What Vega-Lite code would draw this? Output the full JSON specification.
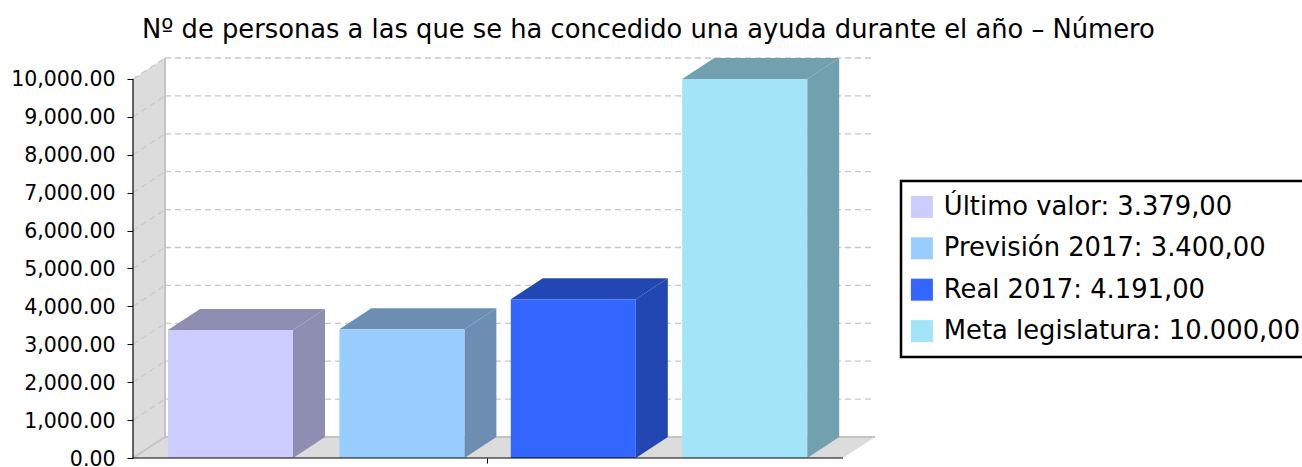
{
"$schema":"https://vega.github.io/schema/vega-lite/v6.json",
"width":742,"height":400,
"autosize":{"type":"none"},
"padding":{"left":133,"top":58,"right":427,"bottom":9},
"background":"white",
"config":{"view":{"stroke":null},"font":"DejaVu Sans","legend":{"strokeWidth":2.5}},
"title":{"text":"Nº de personas a las que se ha concedido una ayuda durante el año – Número","anchor":"start","frame":"group","dx":9,"fontSize":25.75,"fontWeight":"normal","color":"#000000","font":"DejaVu Sans","offset":10},
"datasets":{
"bars":[
{"label":"Último valor: 3.379,00","value":3379,"slot":0},
{"label":"Previsión 2017: 3.400,00","value":3400,"slot":1},
{"label":"Real 2017: 4.191,00","value":4191,"slot":2},
{"label":"Meta legislatura: 10.000,00","value":10000,"slot":3}
],
"ticks":[{"tick":1000},{"tick":2000},{"tick":3000},{"tick":4000},{"tick":5000},{"tick":6000},{"tick":7000},{"tick":8000},{"tick":9000},{"tick":10000}]
},
"encoding":{
"x":{"field":"x","type":"quantitative","scale":{"domain":[0,742],"nice":false,"zero":false},
"axis":{"values":[354],"labels":false,"domain":false,"grid":false,"title":null,"ticks":true,"tickColor":"#000000","tickSize":5,"tickWidth":1}},
"y":{"field":"y","type":"quantitative","stack":null,"scale":{"domain":[0,10554],"nice":false},
"axis":{"values":[0,1000,2000,3000,4000,5000,6000,7000,8000,9000,10000],"format":",.2f","domain":false,"grid":false,"title":null,"tickColor":"#000000","tickSize":6,"tickWidth":1,"labelColor":"#000000","labelFontSize":20.5,"labelPadding":12,"labelOffset":1,"labelFont":"DejaVu Sans"}}
},
"layer":[
{"data":{"values":[{"wall":"left"}]},
"transform":[{"calculate":"[0,1]","as":"t"},{"flatten":["t"]},{"calculate":"32*datum.t","as":"x"},{"calculate":"554*datum.t","as":"y"},{"calculate":"10000+554*datum.t","as":"y2"}],
"mark":{"type":"area","color":"#dcdcdc","clip":false},
"encoding":{"y2":{"field":"y2"}}},
{"data":{"values":[{"wall":"floor"}]},
"transform":[{"calculate":"[0,1,2,3]","as":"t"},{"flatten":["t"]},{"calculate":"[0,32,710,742][datum.t]","as":"x"},{"calculate":"[0,0,0,554][datum.t]","as":"y"},{"calculate":"[0,554,554,554][datum.t]","as":"y2"}],
"mark":{"type":"area","color":"#dcdcdc"},
"encoding":{"y2":{"field":"y2"}}},
{"data":{"name":"ticks"},
"transform":[{"calculate":"32","as":"x"},{"calculate":"742","as":"x2"},{"calculate":"datum.tick+554","as":"y"}],
"mark":{"type":"rule","stroke":"#c8c8c8","strokeWidth":1.3,"strokeDash":[6,4]},
"encoding":{"x2":{"field":"x2"}}},
{"data":{"name":"ticks"},
"transform":[{"calculate":"[0,1]","as":"t"},{"flatten":["t"]},{"calculate":"32*datum.t","as":"x"},{"calculate":"datum.tick+554*datum.t","as":"y"}],
"mark":{"type":"line","stroke":"#c8c8c8","strokeWidth":1.3,"strokeDash":[6,4]},
"encoding":{"detail":{"field":"tick","type":"nominal"}}},
{"data":{"values":[{"edge":"wall","t":0,"x":32,"y":554},{"edge":"wall","t":1,"x":32,"y":10554},{"edge":"floor","t":0,"x":32,"y":554},{"edge":"floor","t":1,"x":742,"y":554},{"edge":"corner","t":0,"x":0,"y":0},{"edge":"corner","t":1,"x":32,"y":554}]},
"mark":{"type":"line","stroke":"#c4c4c4","strokeWidth":2},
"encoding":{"detail":{"field":"edge","type":"nominal"},"order":{"field":"t","type":"quantitative"}}},
{"data":{"name":"bars"},
"transform":[{"calculate":"[0,1]","as":"t"},{"flatten":["t"]},{"calculate":"35+171.4*datum.slot+125+32*datum.t","as":"x"},{"calculate":"554*datum.t","as":"y"},{"calculate":"datum.value+554*datum.t","as":"y2"}],
"mark":{"type":"area"},
"encoding":{"y2":{"field":"y2"},"color":{"field":"label","type":"nominal","legend":null,"scale":{"domain":["Último valor: 3.379,00","Previsión 2017: 3.400,00","Real 2017: 4.191,00","Meta legislatura: 10.000,00"],"range":["#8e8eb2","#6b8eb2","#2347b2","#72a0ae"]}}}},
{"data":{"name":"bars"},
"transform":[{"calculate":"[0,1,2,3]","as":"t"},{"flatten":["t"]},{"calculate":"35+171.4*datum.slot+[0,32,125,157][datum.t]","as":"x"},{"calculate":"datum.value+[0,0,0,554][datum.t]","as":"y"},{"calculate":"datum.value+[0,554,554,554][datum.t]","as":"y2"}],
"mark":{"type":"area"},
"encoding":{"y2":{"field":"y2"},"color":{"field":"label","type":"nominal","legend":null,"scale":{"domain":["Último valor: 3.379,00","Previsión 2017: 3.400,00","Real 2017: 4.191,00","Meta legislatura: 10.000,00"],"range":["#8e8eb2","#6b8eb2","#2347b2","#72a0ae"]}}}},
{"data":{"name":"bars"},
"transform":[{"calculate":"35+171.4*datum.slot","as":"x"},{"calculate":"datum.x+125","as":"x2"},{"calculate":"datum.value","as":"y"}],
"mark":{"type":"rect"},
"encoding":{"x2":{"field":"x2"},"y2":{"datum":0},"color":{"field":"label","type":"nominal","scale":{"domain":["Último valor: 3.379,00","Previsión 2017: 3.400,00","Real 2017: 4.191,00","Meta legislatura: 10.000,00"],"range":["#ccccff","#99ccff","#3366ff","#a3e4f9"]},
"legend":{"orient":"none","legendX":768,"legendY":123,"title":null,"strokeColor":"#000000","fillColor":"#ffffff","padding":13,"symbolType":"square","symbolSize":484,"symbolStrokeWidth":0,"symbolOpacity":1,"symbolOffset":-5,"labelFontSize":25.8,"labelFont":"DejaVu Sans","labelColor":"#000000","labelOffset":9,"rowPadding":14.4,"labelLimit":500}}}},
{"data":{"values":[{"edge":"xaxis","t":0,"x":0,"y":0},{"edge":"xaxis","t":1,"x":710,"y":0},{"edge":"yaxis","t":0,"x":0,"y":0},{"edge":"yaxis","t":1,"x":0,"y":10000}]},
"mark":{"type":"line","stroke":"#000000","strokeWidth":1.2},
"encoding":{"detail":{"field":"edge","type":"nominal"},"order":{"field":"t","type":"quantitative"}}}
],
"resolve":{"scale":{"color":"independent"}}
}
